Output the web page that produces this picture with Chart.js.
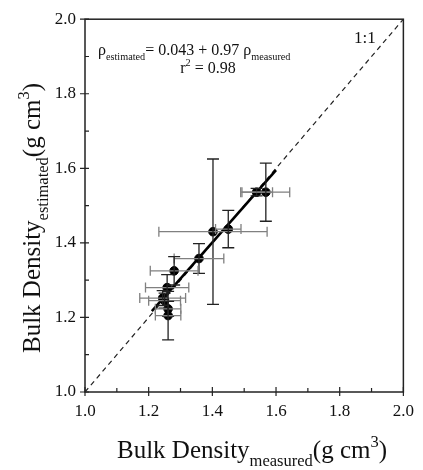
<!DOCTYPE html>
<html>
<head>
<meta charset="utf-8">
<script src="https://cdn.jsdelivr.net/npm/chart.js@4.4.0/dist/chart.umd.min.js"></script>
<style>
  html, body { margin: 0; padding: 0; background: #fff; }
  #wrap { width: 423px; height: 470px; }
</style>
</head>
<body>
<div id="wrap"><canvas id="canvasDensidad" width="423" height="470"></canvas></div>
<script>
// valores
var measured     = [1.539, 1.568, 1.402, 1.450, 1.358, 1.280, 1.258, 1.244, 1.250, 1.261, 1.261];
var estimated    = [1.536, 1.536, 1.430, 1.437, 1.358, 1.325, 1.280, 1.252, 1.245, 1.223, 1.205];
var errMeasured  = [0.050, 0.075, 0.170, 0.040, 0.078, 0.075, 0.068, 0.072, 0.050, 0.040, 0.040];
var errEstimated = [0.010, 0.078, 0.195, 0.050, 0.040, 0.038, 0.035, 0.020, 0.020, 0.020, 0.065];
var fitX = [1.21, 1.60];
var intercept = 0.043, slope = 0.97;
var oneToOne = [1.0, 2.0];
var axisMin = 1.0, axisMax = 2.0;

var serif = '"Liberation Serif", "DejaVu Serif", serif';

var puntos = measured.map(function(m, i){ return {x: m, y: estimated[i]}; });
var ajuste = fitX.map(function(x){ return {x: x, y: intercept + slope * x}; });
var linea11 = oneToOne.map(function(v){ return {x: v, y: v}; });

// texto con sub/superindices: partes [texto, tipo]
function drawRich(ctx, parts, x, y, size, align, subScale){
	subScale = subScale || 0.62;
	var total = 0;
	parts.forEach(function(p){
		var s = p[1] ? size * subScale : size;
		ctx.font = s + 'px ' + serif;
		total += ctx.measureText(p[0]).width;
	});
	var cx = align == 'center' ? x - total / 2 : x;
	parts.forEach(function(p){
		var s = p[1] ? size * subScale : size;
		var dy = p[1] == 'sub' ? size * 0.3 : (p[1] == 'sup' ? -size * 0.45 : 0);
		ctx.font = s + 'px ' + serif;
		ctx.fillText(p[0], cx, y + dy);
		cx += ctx.measureText(p[0]).width;
	});
}

var extras = {
	id: 'extras',
	afterDatasetsDraw: function(chart){
		var ctx = chart.ctx;
		var xs = chart.scales.x, ys = chart.scales.y;
		ctx.save();
		// barras de error
		measured.forEach(function(m, i){
			var px = xs.getPixelForValue(m), py = ys.getPixelForValue(estimated[i]);
			var x1 = xs.getPixelForValue(m - errMeasured[i]), x2 = xs.getPixelForValue(m + errMeasured[i]);
			var y1 = ys.getPixelForValue(estimated[i] - errEstimated[i]), y2 = ys.getPixelForValue(estimated[i] + errEstimated[i]);
			ctx.lineWidth = 1.3;
			ctx.strokeStyle = '#808080';
			ctx.beginPath();
			ctx.moveTo(x1, py); ctx.lineTo(x2, py);
			ctx.moveTo(x1, py - 5); ctx.lineTo(x1, py + 5);
			ctx.moveTo(x2, py - 5); ctx.lineTo(x2, py + 5);
			ctx.stroke();
			ctx.strokeStyle = '#222';
			ctx.beginPath();
			ctx.moveTo(px, y1); ctx.lineTo(px, y2);
			ctx.moveTo(px - 6, y1); ctx.lineTo(px + 6, y1);
			ctx.moveTo(px - 6, y2); ctx.lineTo(px + 6, y2);
			ctx.stroke();
		});
		// marco
		var a = chart.chartArea;
		ctx.strokeStyle = '#222';
		ctx.lineWidth = 1.5;
		ctx.strokeRect(a.left, a.top, a.right - a.left, a.bottom - a.top);
		// marcas de los ejes
		ctx.lineWidth = 1.2;
		ctx.beginPath();
		for (var k = 0; k <= 10; k++){
			var v = axisMin + k * 0.1;
			var mayor = k % 2 == 0;
			var tx = xs.getPixelForValue(v), ty = ys.getPixelForValue(v);
			if (mayor){
				ctx.moveTo(tx, a.bottom + 4); ctx.lineTo(tx, a.bottom - 5);
				ctx.moveTo(a.left - 5, ty); ctx.lineTo(a.left + 4, ty);
			} else {
				ctx.moveTo(tx, a.bottom); ctx.lineTo(tx, a.bottom - 4);
				ctx.moveTo(a.left, ty); ctx.lineTo(a.left + 4, ty);
			}
		}
		ctx.stroke();
		ctx.restore();
	},
	afterDraw: function(chart){
		var ctx = chart.ctx;
		var a = chart.chartArea;
		ctx.save();
		ctx.fillStyle = '#111';
		ctx.textBaseline = 'alphabetic';
		ctx.textAlign = 'left';
		drawRich(ctx, [['\u03c1', ''], ['estimated', 'sub'], ['= 0.043 + 0.97 \u03c1', ''], ['measured', 'sub']], 98, 55, 16, 'left', 0.64);
		drawRich(ctx, [['r', ''], ['2', 'sup'], [' = 0.98', '']], 208, 73, 16, 'center', 0.64);
		drawRich(ctx, [['1:1', '']], 354, 43, 17, 'left');
		// titulos de los ejes
		drawRich(ctx, [['Bulk Density', ''], ['measured', 'sub'], ['(g cm', ''], ['3', 'sup'], [')', '']], 252, 458, 25, 'center', 0.66);
		ctx.translate(40, 218);
		ctx.rotate(-Math.PI / 2);
		drawRich(ctx, [['Bulk Density', ''], ['estimated', 'sub'], ['(g cm', ''], ['3', 'sup'], [')', '']], 0, 0, 25, 'center', 0.66);
		ctx.restore();
	}
};

function escala(pos){
	return {
		type: 'linear',
		position: pos,
		min: axisMin,
		max: axisMax,
		border: { display: false },
		grid: { display: false, drawTicks: false },
		ticks: {
			stepSize: 0.1,
			padding: 9,
			color: '#111',
			font: { family: serif, size: 17 },
			autoSkip: false,
			maxRotation: 0,
			callback: function(v){
				return Math.round(v * 10) % 2 == 0 ? v.toFixed(1) : '';
			}
		},
		afterFit: function(s){
			if (pos == 'left') s.width = 85; else s.height = 78;
		}
	};
}

var ctx = document.getElementById('canvasDensidad').getContext('2d');
window.myChart = new Chart(ctx, {
	type: 'scatter',
	data: {
		datasets: [
			{ data: linea11, showLine: true, borderColor: '#222', borderWidth: 1.2, borderDash: [5, 4], pointRadius: 0, order: 3 },
			{ data: ajuste, showLine: true, borderColor: '#000', borderWidth: 2.6, pointRadius: 0, order: 2 },
			{ data: puntos, backgroundColor: '#000', borderColor: '#000', pointRadius: 4.3, order: 1 }
		]
	},
	options: {
		responsive: false,
		animation: false,
		layout: { padding: { top: 14, right: 18, left: 0, bottom: 0 } },
		plugins: { legend: { display: false }, tooltip: { enabled: false } },
		scales: { x: escala('bottom'), y: escala('left') }
	},
	plugins: [extras]
});
</script>
</body>
</html>
